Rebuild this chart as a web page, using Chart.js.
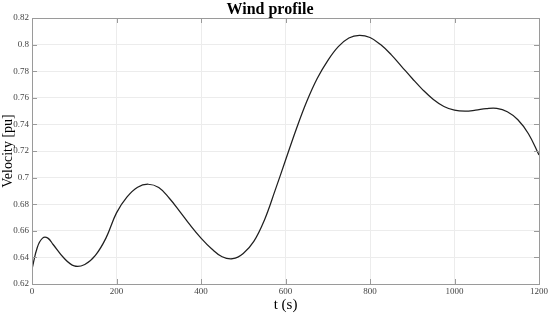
<!DOCTYPE html>
<html>
<head>
<meta charset="utf-8">
<script src="https://cdn.jsdelivr.net/npm/chart.js@4"></script>
<style>
  html, body { margin: 0; padding: 0; background: #fff; }
  #wrap { width: 550px; height: 314px; }
</style>
</head>
<body>
<div id="wrap"><canvas id="chart1" width="550" height="314"></canvas></div>
<script>
// time samples (s)
let timeValues = [0, 12.5, 25, 37.5, 50, 75, 100, 125, 150, 175, 200, 225, 250, 275, 300,
  325, 350, 375, 400, 425, 450, 475, 500, 525, 550, 575, 600, 625, 650, 675,
  700, 725, 750, 775, 800, 825, 850, 875, 900, 925, 950, 975, 1000, 1025, 1050,
  1075, 1100, 1125, 1150, 1175, 1200];

// wind velocity (pu)
let velocityValues = [0.6312, 0.6475, 0.6545, 0.6545, 0.6497, 0.6397, 0.6336, 0.6347, 0.6415, 0.6545,
  0.6735, 0.6855, 0.6928, 0.6950, 0.6925, 0.6845, 0.6745, 0.6640, 0.6545, 0.6465, 0.6405,
  0.6390, 0.6430, 0.6520, 0.6680, 0.6900, 0.7130, 0.7360, 0.7570, 0.7745, 0.7880, 0.7985, 0.8050,
  0.8070, 0.8053, 0.8000, 0.7925, 0.7835, 0.7745, 0.7660, 0.7588, 0.7535, 0.7507, 0.7500, 0.7507,
  0.7518, 0.7520, 0.7495, 0.7435, 0.7330, 0.7170];

let xTicks = [0, 200, 400, 600, 800, 1000, 1200];
let yTicks = [0.62, 0.64, 0.66, 0.68, 0.7, 0.72, 0.74, 0.76, 0.78, 0.8, 0.82];

let points = timeValues.map(function(t, i) { return {x: t, y: velocityValues[i]}; });

// matlab style box round the plot
const boxPlugin = {
  id: 'boxFrame',
  afterDraw(chart) {
    const a = chart.chartArea;
    const ctx = chart.ctx;
    ctx.save();
    ctx.strokeStyle = '#9a9a9a';
    ctx.lineWidth = 1;
    ctx.strokeRect(a.left + 0.5, a.top + 0.5, a.right - a.left, a.bottom - a.top);
    // small inner ticks on all four sides
    const xs = chart.scales.x, ys = chart.scales.y;
    ctx.beginPath();
    xTicks.forEach(function(v) {
      const px = Math.round(xs.getPixelForValue(v)) + 0.5;
      ctx.moveTo(px, a.top); ctx.lineTo(px, a.top + 5);
      ctx.moveTo(px, a.bottom); ctx.lineTo(px, a.bottom - 5);
    });
    yTicks.forEach(function(v) {
      const py = Math.round(ys.getPixelForValue(v)) + 0.5;
      ctx.moveTo(a.right, py); ctx.lineTo(a.right - 5, py);
      ctx.moveTo(a.left, py); ctx.lineTo(a.left + 5, py);
    });
    ctx.stroke();
    ctx.restore();
  }
};

const serif = "'Liberation Serif', 'DejaVu Serif', serif";

new Chart(document.getElementById('chart1').getContext('2d'), {
  type: 'line',
  data: {
    datasets: [{
      label: 'Wind profile',
      data: points,
      borderColor: '#1f1f1f',
      borderWidth: 1.25,
      pointRadius: 0,
      tension: 0.4,
      fill: false
    }]
  },
  options: {
    responsive: false,
    animation: false,
    layout: { padding: { left: 0, right: 10, top: 1, bottom: 0 } },
    plugins: {
      legend: { display: false },
      tooltip: { enabled: false },
      title: {
        display: true,
        text: 'Wind profile',
        color: '#000',
        font: { family: serif, size: 16, weight: 'bold', lineHeight: 1.0 },
        padding: { top: 1, bottom: 0 }
      }
    },
    scales: {
      x: {
        type: 'linear',
        min: 0,
        max: 1200,
        afterBuildTicks: function(s) { s.ticks = xTicks.map(function(v) { return {value: v}; }); },
        afterFit: function(s) { s.height = 30; },
        ticks: {
          color: '#444',
          font: { family: serif, size: 9 },
          padding: 2,
          maxRotation: 0,
          callback: function(v) { return String(v); }
        },
        grid: { color: '#ececec', drawTicks: false },
        border: { color: '#9a9a9a' },
        title: {
          display: true,
          text: 't (s)',
          color: '#000',
          font: { family: serif, size: 15 },
          padding: { top: 0, bottom: 0 }
        }
      },
      y: {
        min: 0.62,
        max: 0.82,
        afterBuildTicks: function(s) { s.ticks = yTicks.map(function(v) { return {value: v}; }); },
        afterFit: function(s) { s.width = 32; },
        ticks: {
          color: '#444',
          font: { family: serif, size: 9 },
          padding: 3,
          callback: function(v) { return String(+v.toFixed(2)); }
        },
        grid: { color: '#ececec', drawTicks: false },
        border: { color: '#9a9a9a' },
        title: {
          display: true,
          text: 'Velocity [pu]',
          color: '#000',
          font: { family: serif, size: 14 },
          padding: { top: 0, bottom: 0 }
        }
      }
    }
  },
  plugins: [boxPlugin]
});
</script>
</body>
</html>
